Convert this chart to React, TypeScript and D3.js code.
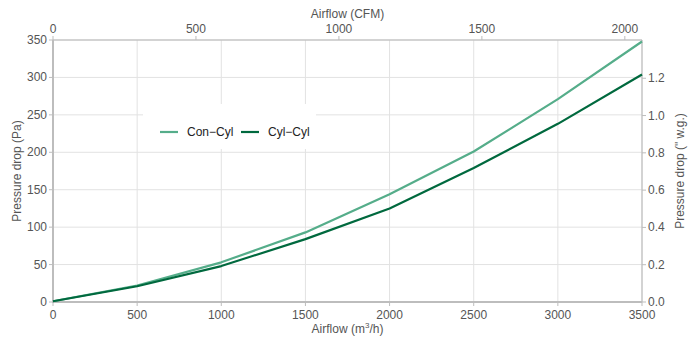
import React from "react";
import * as d3 from "d3";

const airflow = [0, 500, 1000, 1500, 2000, 2500, 3000, 3500];
const conCyl = [1, 22, 53, 93, 144, 201, 271, 348];
const cylCyl = [1, 21, 48, 84, 125, 179, 238, 304];
const seriesNames = ["Con−Cyl", "Cyl−Cyl"];
const seriesColors = ["#55ad8a", "#00693e"];
const xTicks = [0, 500, 1000, 1500, 2000, 2500, 3000, 3500];
const yTicks = [0, 50, 100, 150, 200, 250, 300, 350];
const cfmTicks = [0, 500, 1000, 1500, 2000];
const inwgTicks = [0, 0.2, 0.4, 0.6, 0.8, 1.0, 1.2];

const W = 696, H = 342;
const L = 53, R = 642, T = 40, B = 302;
const M3H_TO_CFM = 0.588578;
const PA_TO_INWG = 0.00401463;

export default function App() {
  const x = d3.scaleLinear().domain([0, 3500]).range([L, R]);
  const y = d3.scaleLinear().domain([0, 350]).range([B, T]);
  const xCfm = d3.scaleLinear().domain([0, 3500 * M3H_TO_CFM]).range([L, R]);
  const yIn = d3.scaleLinear().domain([0, 350 * PA_TO_INWG]).range([B, T]);
  const line = d3.line<number>().x((_, i) => x(airflow[i])).y((d) => y(d));
  const data = [conCyl, cylCyl];
  const txt = "#555";
  const font = "Liberation Sans, Arial, sans-serif";
  return (
    <svg width={W} height={H} style={{ position: "absolute", left: 0, top: 0 }} fontFamily={font}>
      <rect x={0} y={0} width={W} height={H} fill="#fff" />
      {xTicks.map((t) => (
        <line key={"gx" + t} x1={x(t)} x2={x(t)} y1={T} y2={B} stroke="#e2e2e2" strokeWidth={1} />
      ))}
      {yTicks.map((t) => (
        <line key={"gy" + t} x1={L} x2={R} y1={y(t)} y2={y(t)} stroke="#e2e2e2" strokeWidth={1} />
      ))}
      {/* frame */}
      <line x1={L} x2={R} y1={T} y2={T} stroke="#b5b5b5" />
      <line x1={R} x2={R} y1={T} y2={B} stroke="#b5b5b5" />
      <line x1={L} x2={L} y1={T} y2={B + 1} stroke="#bdbdbd" strokeWidth={2} />
      <line x1={L - 1} x2={R} y1={B} y2={B} stroke="#bdbdbd" strokeWidth={2} />
      {/* bottom axis */}
      {xTicks.map((t) => (
        <g key={"bx" + t}>
          <line x1={x(t)} x2={x(t)} y1={B} y2={B + 4} stroke="#bdbdbd" />
          <text x={x(t)} y={B + 17} fontSize={12} fill={txt} textAnchor="middle">{t}</text>
        </g>
      ))}
      <text x={(L + R) / 2} y={333} fontSize={12} fill={txt} textAnchor="middle">
        Airflow (m<tspan dy={-5} fontSize={8}>3</tspan><tspan dy={5}>/h)</tspan>
      </text>
      {/* top axis */}
      {cfmTicks.map((t) => (
        <g key={"tx" + t}>
          <line x1={xCfm(t)} x2={xCfm(t)} y1={T - 4} y2={T} stroke="#bdbdbd" />
          <text x={xCfm(t)} y={T - 7} fontSize={12} fill={txt} textAnchor="middle">{t}</text>
        </g>
      ))}
      <text x={(L + R) / 2} y={18} fontSize={12} fill={txt} textAnchor="middle">Airflow (CFM)</text>
      {/* left axis */}
      {yTicks.map((t) => (
        <g key={"ly" + t}>
          <line x1={L - 4} x2={L} y1={y(t)} y2={y(t)} stroke="#bdbdbd" />
          <text x={L - 6} y={y(t) + 4} fontSize={12} fill={txt} textAnchor="end">{t}</text>
        </g>
      ))}
      <text transform={`translate(21,${(T + B) / 2}) rotate(-90)`} fontSize={12} fill={txt} textAnchor="middle">Pressure drop (Pa)</text>
      {/* right axis */}
      {inwgTicks.map((t) => (
        <g key={"ry" + t}>
          <line x1={R} x2={R + 4} y1={yIn(t)} y2={yIn(t)} stroke="#bdbdbd" />
          <text x={R + 6} y={yIn(t) + 4} fontSize={12} fill={txt} textAnchor="start">{t.toFixed(1)}</text>
        </g>
      ))}
      <text transform={`translate(684,${(T + B) / 2}) rotate(-90)`} fontSize={12} fill={txt} textAnchor="middle">Pressure drop (" w.g.)</text>
      {/* lines */}
      {data.map((d, i) => (
        <path key={"s" + i} d={line(d) || ""} fill="none" stroke={seriesColors[i]} strokeWidth={2.2} strokeLinejoin="round" />
      ))}
      {/* legend */}
      <rect x={143} y={104} width={173} height={45} fill="#fff" />
      {seriesNames.map((n, i) => (
        <g key={"lg" + i}>
          <line x1={160 + i * 81} x2={178 + i * 81} y1={132} y2={132} stroke={seriesColors[i]} strokeWidth={2.2} />
          <text x={187 + i * 81} y={136} fontSize={12} fill="#222">{n}</text>
        </g>
      ))}
    </svg>
  );
}
